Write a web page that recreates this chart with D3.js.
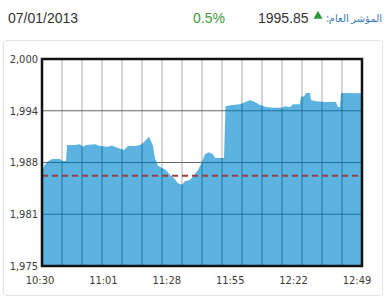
<!DOCTYPE html>
<html>
<head>
<meta charset="utf-8">
<script src="https://cdn.jsdelivr.net/npm/d3@7"></script>
<style>
  body { margin: 0; background: #fff; }
  svg { display: block; }
  .tick-label { font-family: "DejaVu Sans Condensed", "DejaVu Sans", sans-serif; font-size: 11px; fill: #3a3a3a; }
  .head { font-family: "Liberation Sans", Arial, sans-serif; }
</style>
</head>
<body>
<svg id="chart"></svg>
<script>
// header values
const dateLabel = '07/01/2013';
const changeLabel = '0.5%';
const lastValue = 1995.85;
const indexLabel = 'المؤشر العام:';
const prevClose = 1985.9;

// minutes after open (one grid cell = 10 min) and index value
const minutes = [0, 1, 2.5, 5, 9, 10, 12, 12.5, 16.5, 19, 20.5, 22, 26.5, 29, 33, 35, 38, 41, 43, 46.5,
  49, 50.5, 52.5, 53.5, 54.5, 55.5, 56.5, 58, 60, 62, 64, 66, 68, 70, 71.5, 74, 76, 78, 80, 81.5,
  83.5, 85.5, 86.5, 91, 91.75, 95, 99, 102, 104, 106.5, 109, 112, 116, 120, 121.5, 124, 125.5, 129,
  129.5, 131, 132, 134, 134.5, 137, 141.5, 147, 148, 149, 149.5, 160];
const values = [1986.35, 1987.08, 1987.56, 1987.92, 1987.92, 1987.68, 1987.68, 1989.6, 1989.6, 1989.7,
  1989.4, 1989.6, 1989.7, 1989.5, 1989.4, 1989.55, 1989.25, 1989.0, 1989.5, 1989.5,
  1989.6, 1989.85, 1990.35, 1990.6, 1990.1, 1989.5, 1988.05, 1987.1, 1986.85, 1986.6,
  1986.0, 1985.6, 1985.0, 1984.8, 1985.25, 1985.4, 1986.0, 1986.6, 1987.55, 1988.5,
  1988.75, 1988.5, 1988.05, 1988.05, 1994.3, 1994.45, 1994.55, 1994.85, 1995.05, 1994.8,
  1994.45, 1994.2, 1994.1, 1994.1, 1994.3, 1994.2, 1994.55, 1994.55, 1995.4, 1995.5,
  1995.9, 1995.9, 1995.05, 1994.9, 1994.8, 1994.8, 1994.2, 1994.2, 1995.9, 1995.85];

const timeLabels = ['10:30', '11:01', '11:28', '11:55', '12:22', '12:49'];
const yTicks = [1975, 1981.25, 1987.5, 1993.75, 2000];

const data = minutes.map((m, i) => ({m: m, v: values[i]}));

const W = 386, H = 300;
const margin = {top: 59, right: 24, bottom: 34, left: 42};
const width = W - margin.left - margin.right;
const height = H - margin.top - margin.bottom;

const svg = d3.select('#chart').attr('width', W).attr('height', H);

// outer panel
svg.append('rect')
  .attr('x', 3.5).attr('y', 40.5)
  .attr('width', W - 7).attr('height', H - 45)
  .attr('rx', 3)
  .attr('fill', '#fff')
  .attr('stroke', '#e2e2e2');

// header
svg.append('text').attr('class', 'head')
  .attr('x', 8).attr('y', 23)
  .attr('font-size', 14).attr('fill', '#333')
  .text(dateLabel);

svg.append('text').attr('class', 'head')
  .attr('x', 193).attr('y', 23)
  .attr('font-size', 14).attr('fill', '#3f9a3a')
  .text(changeLabel);

svg.append('text').attr('class', 'head')
  .attr('x', 258).attr('y', 23)
  .attr('font-size', 14).attr('fill', '#333')
  .text(lastValue.toFixed(2));

svg.append('path')
  .attr('d', d3.symbol(d3.symbolTriangle, 36)())
  .attr('transform', 'translate(318,16)')
  .attr('fill', '#2e9a3a');

// index name, right to left
svg.append('text')
  .attr('x', 382).attr('y', 22)
  .attr('direction', 'rtl')
  .attr('text-anchor', 'start')
  .attr('font-family', '"Noto Sans", "DejaVu Sans", sans-serif')
  .attr('font-size', 10)
  .attr('fill', '#3a78b5')
  .text(indexLabel);

const chart = svg.append('g')
  .attr('transform', `translate(${margin.left},${margin.top})`);

const x = d3.scaleLinear().domain([0, 160]).range([0, width]);
const y = d3.scaleLinear().domain([1975, 2000]).range([height, 0]);
const xLab = d3.scalePoint().domain(timeLabels).range([-2, width - 5]);

const gridX = d3.range(10, 160, 10);

function drawGrid(g, vColor, hColor) {
  g.selectAll('.vline').data(gridX).join('line')
    .attr('class', 'vline')
    .attr('x1', d => x(d)).attr('x2', d => x(d))
    .attr('y1', 0).attr('y2', height)
    .attr('stroke', vColor).attr('stroke-width', 1.2);
  g.selectAll('.hline').data(yTicks.slice(1, -1)).join('line')
    .attr('class', 'hline')
    .attr('x1', 0).attr('x2', width)
    .attr('y1', d => y(d)).attr('y2', d => y(d))
    .attr('stroke', hColor).attr('stroke-width', 1.2);
}

drawGrid(chart.append('g'), '#b8b8b8', '#666');

const area = d3.area()
  .x(d => x(d.m))
  .y0(height)
  .y1(d => y(d.v))
  .curve(d3.curveLinear);

chart.append('path')
  .datum(data)
  .attr('d', area)
  .attr('fill', '#5cb3e0');

// darker grid inside the area
svg.append('clipPath').attr('id', 'areaClip')
  .append('path').datum(data).attr('d', area);

drawGrid(chart.append('g').attr('clip-path', 'url(#areaClip)'), '#2a7fa8', '#1f6f98');

// previous close
chart.append('line')
  .attr('x1', 0).attr('x2', width)
  .attr('y1', y(prevClose)).attr('y2', y(prevClose))
  .attr('stroke', '#9a3f3f')
  .attr('stroke-width', 2)
  .attr('stroke-dasharray', '6,4');

// frame
chart.append('rect')
  .attr('width', width).attr('height', height)
  .attr('fill', 'none')
  .attr('stroke', '#111')
  .attr('stroke-width', 2.5);

// y labels
chart.selectAll('.ylab').data(yTicks).join('text')
  .attr('class', 'tick-label ylab')
  .attr('x', -4)
  .attr('y', d => y(d))
  .attr('dy', '0.35em')
  .attr('text-anchor', 'end')
  .text(d => d3.format(',.0f')(d));

// x labels
chart.selectAll('.xlab').data(timeLabels).join('text')
  .attr('class', 'tick-label xlab')
  .attr('x', d => xLab(d))
  .attr('y', height + 18)
  .attr('text-anchor', 'middle')
  .text(d => d);
</script>
</body>
</html>
